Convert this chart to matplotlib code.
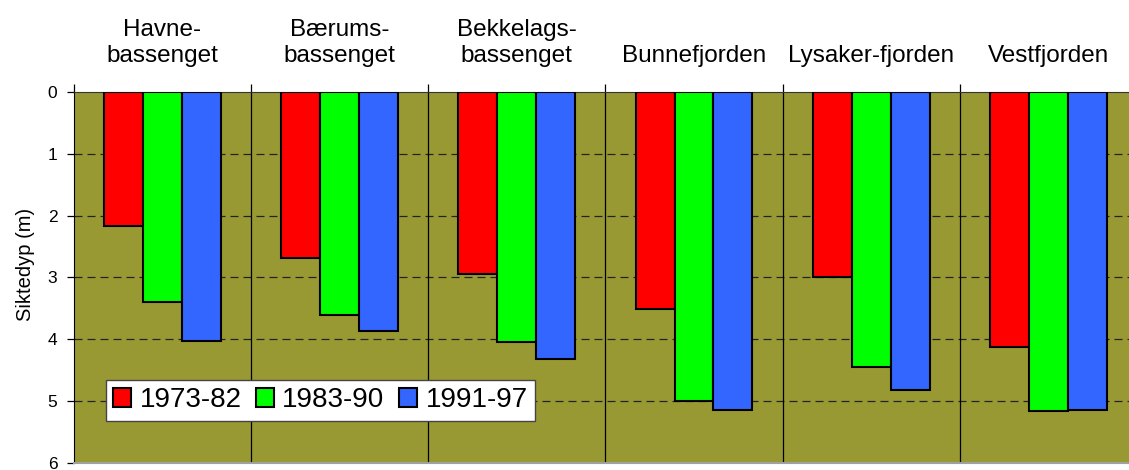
import numpy as np
import matplotlib
matplotlib.use('Agg')
from matplotlib import pyplot as plt

plt.rcParams['font.family'] = ['Liberation Sans', 'DejaVu Sans']

categories = ['Havne-\nbassenget', 'Bærums-\nbassenget', 'Bekkelags-\nbassenget',
              'Bunnefjorden', 'Lysaker-fjorden', 'Vestfjorden']
periods = ['1973-82', '1983-90', '1991-97']
depth_7382 = [2.16, 2.68, 2.95, 3.51, 3.00, 4.12]
depth_8390 = [3.39, 3.60, 4.04, 4.99, 4.44, 5.16]
depth_9197 = [4.03, 3.86, 4.32, 5.15, 4.82, 5.14]
colors = ['#ff0000', '#00ff00', '#3366ff']

fig = plt.figure(figsize=(11.29, 4.70), dpi=100)
# axes run a little past the right edge of the figure
ax = fig.add_axes([0.0655, 0.0149, 0.9415, 0.7894])
ax.set_facecolor('#999933')

x = np.arange(len(categories))
w = 0.22
series = [depth_7382, depth_8390, depth_9197]
for k, (vals, col, lab) in enumerate(zip(series, colors, periods)):
    ax.bar(x + (k - 1) * w, vals, width=w, color=col, edgecolor='black',
           linewidth=1.5, label=lab, zorder=3)

ax.set_ylim(6, 0)
ax.set_xlim(-0.5, len(categories) - 0.5)
ax.set_yticks(range(7))

# dashed depth lines and solid separators between basins
for yv in range(1, 6):
    ax.axhline(yv, color='#222222', lw=0.9, dashes=(6.4, 4), zorder=1)
for xv in np.arange(0.5, len(categories) - 0.5, 1):
    ax.axvline(xv, color='black', lw=0.9, zorder=1)

ax.xaxis.tick_top()
ax.set_xticks(x)
ax.set_xticklabels(categories, fontsize=17.5, linespacing=1.25)
ax.set_xticks(np.arange(-0.5, len(categories), 1), minor=True)
ax.tick_params(axis='x', which='major', length=0, pad=18)
ax.tick_params(axis='x', which='minor', length=6, width=0.9, direction='out')
ax.tick_params(axis='y', length=5, width=0.9, direction='out', labelsize=12.5, pad=7)

ax.spines['right'].set_visible(False)
ax.spines['top'].set_color('#333333')
ax.spines['left'].set_color('black')
ax.spines['bottom'].set_color('#a0a0a0')
ax.spines['bottom'].set_linewidth(1.5)

ax.set_ylabel('Siktedyp (m)', fontsize=14.5)
ax.yaxis.set_label_coords(-0.037, 0.534)

leg = ax.legend(loc='lower left', bbox_to_anchor=(0.0298, 0.113), ncol=3,
                fontsize=20, frameon=True, fancybox=False, borderaxespad=0,
                handlelength=0.65, handleheight=0.65, handletextpad=0.29,
                columnspacing=0.53, borderpad=0.28)
leg.get_frame().set_edgecolor('#444444')
leg.get_frame().set_linewidth(1.0)
leg.get_frame().set_facecolor('white')
leg.get_frame().set_alpha(1)

fig.savefig('out.png', dpi=100)
